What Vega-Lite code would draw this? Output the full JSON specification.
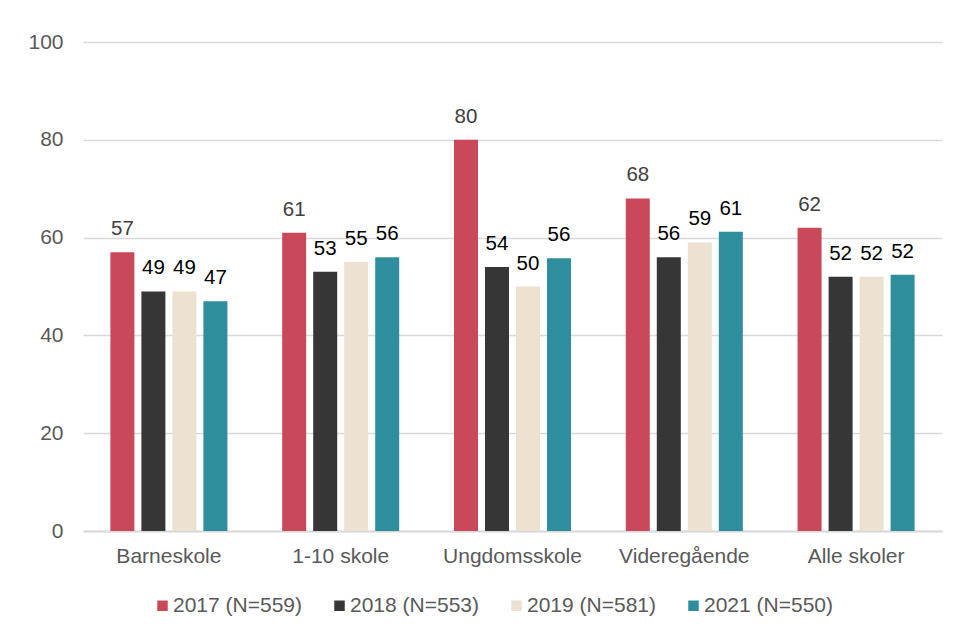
{
  "$schema": "https://vega.github.io/schema/vega-lite/v6.json",
  "width": 859,
  "height": 489,
  "autosize": {"type": "none"},
  "padding": {"left": 83, "top": 42, "right": 16, "bottom": 101},
  "background": "white",
  "config": {
    "font": "Liberation Sans",
    "view": {"stroke": null},
    "axis": {"labelFont": "Liberation Sans", "labelFontSize": 21, "labelColor": "#595959"},
    "legend": {"labelFont": "Liberation Sans", "padding": 0}
  },
  "data": {
    "values": [
      {"skole": "Barneskole", "aar": "2017 (N=559)", "verdi": 57},
      {"skole": "Barneskole", "aar": "2018 (N=553)", "verdi": 49},
      {"skole": "Barneskole", "aar": "2019 (N=581)", "verdi": 49},
      {"skole": "Barneskole", "aar": "2021 (N=550)", "verdi": 47},
      {"skole": "1-10 skole", "aar": "2017 (N=559)", "verdi": 61},
      {"skole": "1-10 skole", "aar": "2018 (N=553)", "verdi": 53},
      {"skole": "1-10 skole", "aar": "2019 (N=581)", "verdi": 55},
      {"skole": "1-10 skole", "aar": "2021 (N=550)", "verdi": 56},
      {"skole": "Ungdomsskole", "aar": "2017 (N=559)", "verdi": 80},
      {"skole": "Ungdomsskole", "aar": "2018 (N=553)", "verdi": 54},
      {"skole": "Ungdomsskole", "aar": "2019 (N=581)", "verdi": 50},
      {"skole": "Ungdomsskole", "aar": "2021 (N=550)", "verdi": 55.8},
      {"skole": "Videregående", "aar": "2017 (N=559)", "verdi": 68},
      {"skole": "Videregående", "aar": "2018 (N=553)", "verdi": 56},
      {"skole": "Videregående", "aar": "2019 (N=581)", "verdi": 59},
      {"skole": "Videregående", "aar": "2021 (N=550)", "verdi": 61.2},
      {"skole": "Alle skoler", "aar": "2017 (N=559)", "verdi": 62},
      {"skole": "Alle skoler", "aar": "2018 (N=553)", "verdi": 52},
      {"skole": "Alle skoler", "aar": "2019 (N=581)", "verdi": 52},
      {"skole": "Alle skoler", "aar": "2021 (N=550)", "verdi": 52.4}
    ]
  },
  "encoding": {
    "x": {
      "field": "skole", "type": "nominal", "sort": null, "title": null,
      "scale": {"paddingInner": 0.278, "paddingOuter": 0.139},
      "axis": {"labelAngle": 0, "ticks": false, "domainColor": "#d9d9d9", "domainWidth": 2, "labelPadding": 14}
    },
    "xOffset": {
      "field": "aar", "type": "nominal", "sort": null,
      "scale": {"paddingInner": 0.226, "paddingOuter": 0.113}
    },
    "y": {
      "field": "verdi", "type": "quantitative", "title": null,
      "scale": {"domain": [0, 100]},
      "axis": {"values": [0, 20, 40, 60, 80, 100], "ticks": false, "domain": false, "gridColor": "#d9d9d9", "gridWidth": 1.5, "labelPadding": 20}
    }
  },
  "layer": [
    {
      "mark": {"type": "bar"},
      "encoding": {
        "color": {
          "field": "aar", "type": "nominal", "sort": null,
          "scale": {
            "domain": ["2017 (N=559)", "2018 (N=553)", "2019 (N=581)", "2021 (N=550)"],
            "range": ["#C9495B", "#363636", "#EDE1D2", "#2E8E9E"]
          },
          "legend": {
            "title": null, "orient": "none", "direction": "horizontal",
            "legendX": 69, "legendY": 553,
            "symbolType": "square", "symbolSize": 110, "symbolStrokeWidth": 0,
            "labelFontSize": 21, "labelColor": "#595959", "labelOffset": 0,
            "columnPadding": 26
          }
        }
      }
    },
    {
      "mark": {"type": "text", "baseline": "alphabetic", "dy": -17, "fontSize": 20.5},
      "encoding": {
        "text": {"field": "verdi", "type": "quantitative", "format": ".0f"},
        "color": {
          "condition": {"test": "datum.aar === '2017 (N=559)'", "value": "#404040"},
          "value": "#000000"
        }
      }
    }
  ]
}
